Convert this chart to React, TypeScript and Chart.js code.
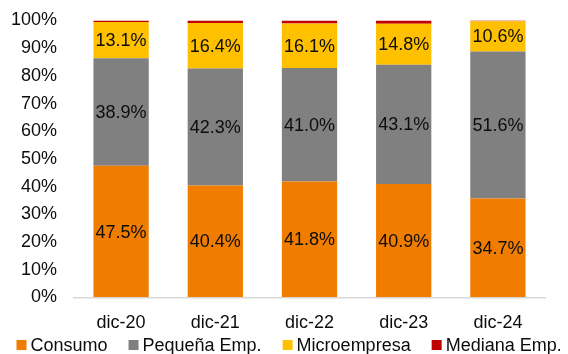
import React, { useEffect, useRef } from "react";
import { Chart, registerables } from "chart.js";

Chart.register(...registerables);

// Share of portfolio by segment (%), year-end
const categories = ["dic-20", "dic-21", "dic-22", "dic-23", "dic-24"];
const consumo = [47.5, 40.4, 41.8, 40.9, 34.7];
const pequena = [38.9, 42.3, 41.0, 43.1, 51.6];
const micro = [13.1, 16.4, 16.1, 14.8, 10.6];
const mediana = [0.5, 0.9, 1.1, 1.2, 0.3];
const yTicks = [0, 10, 20, 30, 40, 50, 60, 70, 80, 90, 100];

const FONT = "'Liberation Sans', Arial, sans-serif";
const TEXT = "#0d0d0d";

const series = [
  { label: "Consumo", values: consumo, color: "#F07D00", showLabels: true },
  { label: "Pequeña Emp.", values: pequena, color: "#808080", showLabels: true },
  { label: "Microempresa", values: micro, color: "#FFC000", showLabels: true },
  { label: "Mediana Emp.", values: mediana, color: "#C00000", showLabels: false },
];

// 100% stacked: each column is scaled to its own total
const totals = categories.map((_, i) =>
  series.reduce((s, d) => s + d.values[i], 0)
);

const fmt = (v: number) => v.toFixed(1) + "%";

const segmentLabels = {
  id: "segmentLabels",
  afterDatasetsDraw(chart: any) {
    const ctx = chart.ctx;
    ctx.save();
    ctx.font = `18px ${FONT}`;
    ctx.fillStyle = TEXT;
    ctx.textAlign = "center";
    ctx.textBaseline = "middle";
    series.forEach((s, di) => {
      if (!s.showLabels) return;
      const meta = chart.getDatasetMeta(di);
      meta.data.forEach((bar: any, i: number) => {
        const y = (bar.y + bar.base) / 2;
        ctx.fillText(fmt(s.values[i]), bar.x, y + 1);
      });
    });
    ctx.restore();
  },
};

const bottomLegend = {
  id: "bottomLegend",
  afterDraw(chart: any) {
    const ctx = chart.ctx;
    ctx.save();
    ctx.font = `18px ${FONT}`;
    ctx.textBaseline = "alphabetic";
    ctx.textAlign = "left";
    const box = 10;
    const boxGap = 4;
    const itemGap = 21;
    const baseY = chart.height - 3;
    let x = 8.5;
    series.forEach((s) => {
      ctx.fillStyle = s.color;
      ctx.fillRect(x, baseY - 11, box, box);
      ctx.fillStyle = TEXT;
      const tx = x + box + boxGap;
      ctx.fillText(s.label, tx, baseY);
      x = tx + ctx.measureText(s.label).width + itemGap;
    });
    ctx.restore();
  },
};

export default function App() {
  const ref = useRef<HTMLCanvasElement | null>(null);

  useEffect(() => {
    if (!ref.current) return;
    const chart = new Chart(ref.current, {
      type: "bar",
      data: {
        labels: categories,
        datasets: series.map((s) => ({
          label: s.label,
          data: s.values.map((v, i) => (v / totals[i]) * 100),
          backgroundColor: s.color,
          borderWidth: 0,
          barPercentage: 0.587,
          categoryPercentage: 1,
        })),
      },
      options: {
        responsive: false,
        animation: false,
        layout: { padding: { left: 0, right: 15, top: 12.5, bottom: 25 } },
        plugins: {
          legend: { display: false },
          tooltip: { enabled: false },
        },
        scales: {
          x: {
            stacked: true,
            grid: { display: false, drawTicks: false },
            border: { display: true, color: "#d9d9d9", width: 1.5 },
            ticks: {
              padding: 15,
              color: TEXT,
              font: { family: FONT, size: 18 },
            },
            afterFit: (s: any) => {
              s.height = 31.7;
              s.paddingLeft = 0;
              s.paddingRight = 0;
            },
          },
          y: {
            stacked: true,
            min: 0,
            max: 100,
            grid: { display: false, drawTicks: false },
            border: { display: false },
            afterBuildTicks: (s: any) => {
              s.ticks = yTicks.map((v) => ({ value: v }));
            },
            ticks: {
              padding: 17,
              color: TEXT,
              font: { family: FONT, size: 18 },
              callback: (v: any) => v + "%",
            },
            afterFit: (s: any) => {
              s.width = 66;
              s.paddingTop = 0;
              s.paddingBottom = 0;
            },
          },
        },
      },
      plugins: [segmentLabels, bottomLegend],
    });
    return () => chart.destroy();
  }, []);

  return (
    <div style={{ width: 552, height: 346 }}>
      <canvas ref={ref} width={552} height={346} />
    </div>
  );
}
